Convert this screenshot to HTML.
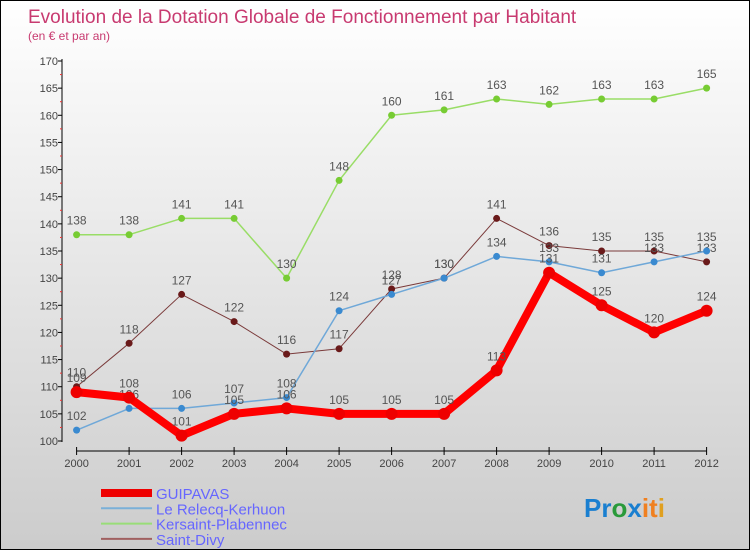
<!DOCTYPE html>
<html><head><meta charset="utf-8"><style>
body{margin:0;width:750px;height:550px;overflow:hidden;font-family:"Liberation Sans",sans-serif}
#c{position:absolute;left:0;top:0;width:748px;height:548px;border:1px solid #000;background:linear-gradient(#fff,#ccc)}
</style></head><body>
<div id="c">
<svg width="750" height="550">
<text x="27" y="22" font-size="19" fill="#c83a70">Evolution de la Dotation Globale de Fonctionnement par Habitant</text>
<text x="27" y="39" font-size="12" fill="#c83a70">(en € et par an)</text>
<g id="axes"></g><g id="series"></g><g id="legend"></g>
<text x="583" y="516" font-size="26" font-weight="bold"><tspan fill="#1a7fd0">Pr</tspan><tspan fill="#2a9a3a">o</tspan><tspan fill="#1a7fd0">x</tspan><tspan fill="#f08020">it</tspan><tspan fill="#e0a020">i</tspan></text>
</svg></div>
<script>
const years=[2000,2001,2002,2003,2004,2005,2006,2007,2008,2009,2010,2011,2012];
const guipavas=[109,108,101,105,106,105,105,105,113,131,125,120,124];
const relecq=[102,106,106,107,108,124,127,130,134,133,131,133,135];
const kersaint=[138,138,141,141,130,148,160,161,163,162,163,163,165];
const saintDivy=[110,118,127,122,116,117,128,130,141,136,135,135,133];
const yTicks=[100,105,110,115,120,125,130,135,140,145,150,155,160,165,170];
const NS="http://www.w3.org/2000/svg";
const X=i=>75.6+i*52.5, Y=v=>440-(v-100)*380/70;
function mk(t,a,p){const e=document.createElementNS(NS,t);for(const k in a)e.setAttribute(k,a[k]);p.appendChild(e);return e;}
const ax=document.getElementById('axes');
let l=mk('line',{x1:61,y1:58,x2:61,y2:441,stroke:'#000'},ax);


l=mk('line',{x1:X(0),y1:450,x2:X(12),y2:450,stroke:'#000'},ax);


yTicks.forEach(v=>{mk('line',{x1:57,x2:61,y1:Y(v),y2:Y(v),stroke:'#000'},ax);
 if(v<170)mk('line',{x1:59,x2:61,y1:Y(v+2.5),y2:Y(v+2.5),stroke:'#e33'},ax);
 const t=mk('text',{x:57,y:Y(v)+4,'text-anchor':'end','font-size':11,fill:'#444'},ax);t.textContent=v;
 
 });
years.forEach((y,i)=>{mk('line',{x1:X(i),x2:X(i),y1:446,y2:454,stroke:'#000'},ax);
 const t=mk('text',{x:X(i),y:466,'text-anchor':'middle','font-size':11,fill:'#444'},ax);t.textContent=y;
 
 });
const sg=document.getElementById('series');
const defs=[[kersaint,'#99dd66','#77cc33',1.5,3.5,'kersaint'],[saintDivy,'#7a3a3a','#6a1a1a',1,3.5,'saint-divy'],[relecq,'#6fa8d8','#3a8ad0',1.5,3.5,'relecq'],[guipavas,'#ff0000','#ee0000',8,6,'guipavas']];
defs.forEach(([d,lc,pc,w,r,n])=>{
 const p=mk('polyline',{points:d.map((v,i)=>X(i)+','+Y(v)).join(' '),fill:'none',stroke:lc,'stroke-width':w,'stroke-linejoin':'round'},sg);
 
 
 d.forEach((v,i)=>{const c=mk('circle',{cx:X(i),cy:Y(v),r:r,fill:pc},sg);
  
  
  const t=mk('text',{x:X(i),y:Y(v)-10,'text-anchor':'middle','font-size':12,fill:'#555'},sg);t.textContent=v;
  
  });
});
const lg=document.getElementById('legend');
[['GUIPAVAS','#ee0000',8],['Le Relecq-Kerhuon','#7ab0d8',2],['Kersaint-Plabennec','#99dd77',2],['Saint-Divy','#a06060',2]].forEach(([n,c,w],i)=>{
 const y=492+i*15.3;
 const ln=mk('line',{x1:100,x2:151,y1:y,y2:y,stroke:c,'stroke-width':w},lg);
 
 
 const t=mk('text',{x:155,y:y+6,'font-size':15,fill:'#6666ff'},lg);t.textContent=n;
 
 
});
</script></body></html>
